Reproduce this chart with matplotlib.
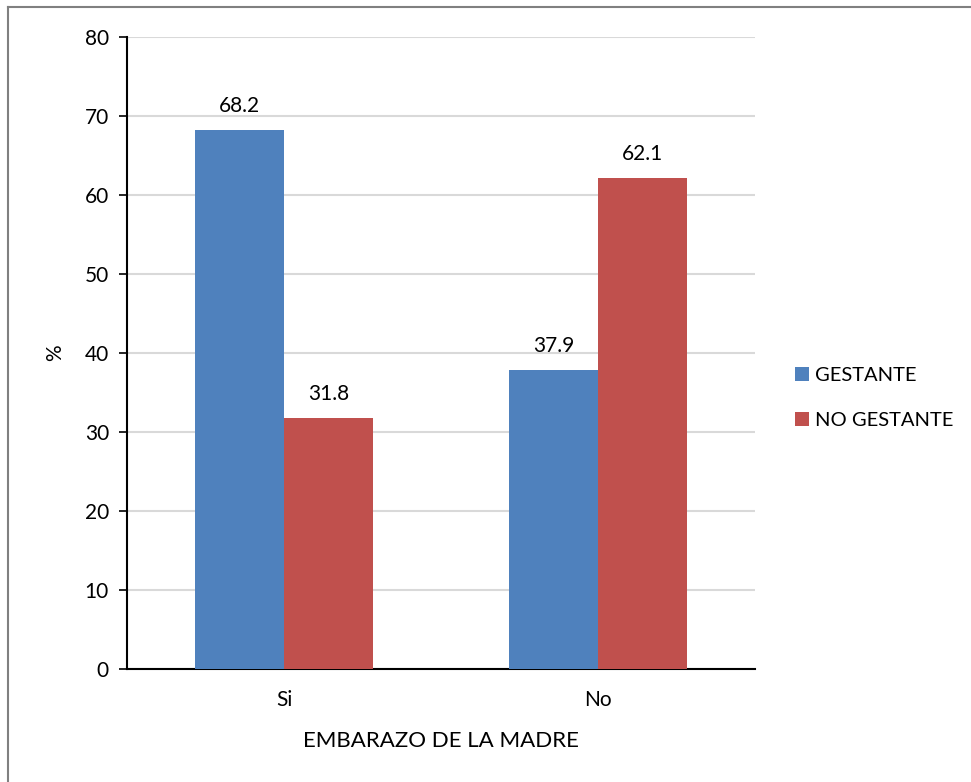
import matplotlib
matplotlib.use("Agg")
import matplotlib.pyplot as plt
import numpy as np
from matplotlib.lines import Line2D

categories = ["Si", "No"]
series_names = ["GESTANTE", "NO GESTANTE"]
gestante = [68.2, 37.9]
no_gestante = [31.8, 62.1]
y_ticks = [0, 10, 20, 30, 40, 50, 60, 70, 80]

colors = ["#4F81BD", "#C0504D"]

plt.rcParams["font.family"] = ["Lato", "DejaVu Sans"]

fig = plt.figure(figsize=(9.71, 7.82), dpi=100)
ax = fig.add_axes([127 / 971, 1 - 669 / 782, 628 / 971, 632 / 782])

x = np.arange(len(categories))
width = 0.283

for i, (vals, name) in enumerate(zip([gestante, no_gestante], series_names)):
    pos = x + (i - 0.5) * width
    bars = ax.bar(pos, vals, width=width, color=colors[i], label=name, zorder=3)
    for b, v in zip(bars, vals):
        ax.annotate(f"{v:.1f}", (b.get_x() + b.get_width() / 2, v),
                    xytext=(0, 13), textcoords="offset points",
                    ha="center", va="baseline", fontsize=15, color="#000000")

ax.set_xlim(-0.5, 1.5)
ax.set_ylim(0, 80)
ax.set_yticks(y_ticks)
ax.set_xticks(x)
ax.set_xticklabels(categories)
ax.tick_params(axis="y", labelsize=15, length=6, width=1.2, direction="out", pad=7)
ax.tick_params(axis="x", labelsize=15, length=0, pad=15)
ax.yaxis.grid(True, color="#D9D9D9", linewidth=1.5, zorder=0)
ax.set_axisbelow(True)
for s in ["top", "right"]:
    ax.spines[s].set_visible(False)
ax.spines["left"].set_linewidth(1.5)
ax.spines["bottom"].set_linewidth(1.5)
ax.set_ylabel("%", fontsize=15, labelpad=14)
ax.set_xlabel("EMBARAZO DE LA MADRE", fontsize=16, labelpad=15)

fig.legend(loc="center left", bbox_to_anchor=(777 / 971, 1 - 398 / 782),
           frameon=False, fontsize=14.5, handlelength=0.7, handleheight=0.7,
           handletextpad=0.3, labelspacing=1.4)

# outer border (left and top edges of the frame)
fig.add_artist(Line2D([8 / 971, 8 / 971], [0, 1 - 7 / 782], transform=fig.transFigure,
                      color="#808080", linewidth=1.5))
fig.add_artist(Line2D([8 / 971, 1], [1 - 7 / 782, 1 - 7 / 782], transform=fig.transFigure,
                      color="#808080", linewidth=1.5))

fig.savefig("out.png", dpi=100)
